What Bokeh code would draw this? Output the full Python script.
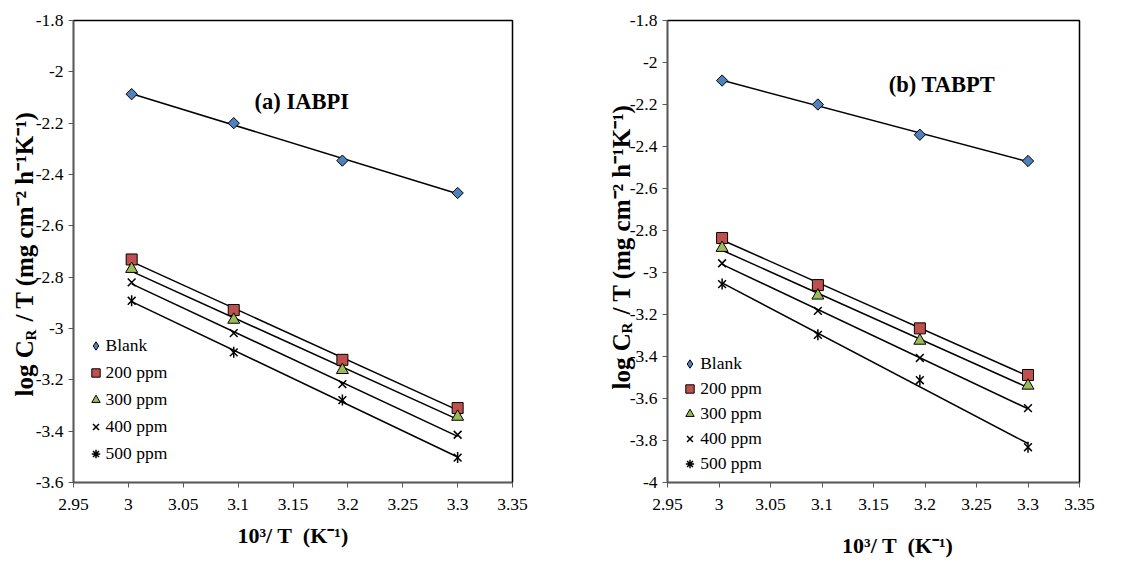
import numpy as np
from bokeh.plotting import figure
from bokeh.models import Label, Legend, LegendItem, FixedTicker, Range1d, Title
from bokeh.layouts import row
from bokeh.embed import file_html
from bokeh.resources import INLINE

# ---------------- data ----------------
inv_T = [3.003, 3.096, 3.195, 3.300]
series_labels = ["Blank", "200 ppm", "300 ppm", "400 ppm", "500 ppm"]

iabpi_blank = [-2.087, -2.200, -2.346, -2.472]
iabpi_200 = [-2.731, -2.928, -3.122, -3.310]
iabpi_300 = [-2.768, -2.966, -3.162, -3.344]
iabpi_400 = [-2.820, -3.018, -3.217, -3.414]
iabpi_500 = [-2.892, -3.093, -3.279, -3.503]

tabpt_blank = [-2.086, -2.200, -2.344, -2.469]
tabpt_200 = [-2.836, -3.060, -3.266, -3.488]
tabpt_300 = [-2.883, -3.110, -3.325, -3.539]
tabpt_400 = [-2.956, -3.183, -3.407, -3.646]
tabpt_500 = [-3.055, -3.297, -3.513, -3.832]

x_ticks = [2.95, 3.0, 3.05, 3.1, 3.15, 3.2, 3.25, 3.3, 3.35]
x_tick_labels = ["2.95", "3", "3.05", "3.1", "3.15", "3.2", "3.25", "3.3", "3.35"]
ya_ticks = [-1.8, -2.0, -2.2, -2.4, -2.6, -2.8, -3.0, -3.2, -3.4, -3.6]
ya_tick_labels = ["-1.8", "-2", "-2.2", "-2.4", "-2.6", "-2.8", "-3", "-3.2", "-3.4", "-3.6"]
yb_ticks = [-1.8, -2.0, -2.2, -2.4, -2.6, -2.8, -3.0, -3.2, -3.4, -3.6, -3.8, -4.0]
yb_tick_labels = ["-1.8", "-2", "-2.2", "-2.4", "-2.6", "-2.8", "-3", "-3.2", "-3.4", "-3.6", "-3.8", "-4"]

y_title_main = "log C\u2002 / T (mg cm\u207b\u00b2 h\u207b\u00b9K\u207b\u00b9)"
y_title_sub = "R"
x_title = "10\u00b3/ T\u2002(K\u207b\u00b9)"

SERIF = "Liberation Serif"

STYLES = [
    dict(marker="square", size=8, angle=np.pi / 4, fill_color="#4f81bd", line_color="black", line_width=1),
    dict(marker="square", size=11, fill_color="#c0504d", line_color="black", line_width=1),
    dict(marker="triangle", size=12, fill_color="#9bbb59", line_color="black", line_width=1),
    dict(marker="x", size=11, line_color="black", line_width=1.5),
    dict(marker="x", size=11, line_color="black", line_width=1.5),
]


def make_panel(series, y_ticks, y_tick_labels, y_lo, title, title_xy, width, height,
               borders, legend_loc, legend_glyph_h, ytitle_offset, ytitle_standoff,
               sub_offset, sub_standoff, x_title_text, x_title_standoff):
    bl, br, bt, bb = borders
    p = figure(width=width, height=height, output_backend="svg", toolbar_location=None,
               x_range=Range1d(2.95, 3.35), y_range=Range1d(y_lo, -1.8),
               min_border_left=bl, min_border_right=br, min_border_top=bt, min_border_bottom=bb)
    p.xgrid.visible = False
    p.ygrid.visible = False
    p.outline_line_color = "black"
    p.outline_line_width = 1.5
    p.background_fill_color = "white"
    p.border_fill_color = "white"

    p.xaxis.ticker = FixedTicker(ticks=x_ticks)
    p.xaxis.major_label_overrides = dict(zip(x_ticks, x_tick_labels))
    p.yaxis.ticker = FixedTicker(ticks=y_ticks)
    p.yaxis.major_label_overrides = dict(zip(y_ticks, y_tick_labels))
    for ax in (p.xaxis[0], p.yaxis[0]):
        ax.axis_line_color = "#595959"
        ax.axis_line_width = 1.5
        ax.major_tick_line_color = "#595959"
        ax.major_tick_in = 0
        ax.major_tick_out = 5
        ax.minor_tick_line_color = None
        ax.major_label_text_font = SERIF
        ax.major_label_text_font_size = "17.5px"
        ax.major_label_text_color = "black"
    p.xaxis.major_label_standoff = 11
    p.yaxis.major_label_standoff = 5

    # x axis title as the axis label
    p.xaxis.axis_label = x_title_text
    p.xaxis.axis_label_text_font = SERIF
    p.xaxis.axis_label_text_font_style = "bold"
    p.xaxis.axis_label_text_font_size = "22px"
    p.xaxis.axis_label_text_color = "black"
    p.xaxis.axis_label_standoff = x_title_standoff

    xs = np.array(inv_T)
    items = []
    for name, ys, st in zip(series_labels, series, STYLES):
        ys = np.array(ys)
        k, b = np.polyfit(xs, ys, 1)
        xf = np.array([xs.min(), xs.max()])
        p.line(xf, k * xf + b, line_color="black", line_width=1.5)
    for name, ys, st in zip(series_labels, series, STYLES):
        r = p.scatter(xs, ys, **st)
        if name == "Blank":
            leg_r = p.scatter(xs, ys, marker="diamond", fill_color="#4f81bd",
                              line_color="black", line_width=1, visible=False)
            items.append(LegendItem(label=name, renderers=[leg_r]))
        elif name == "500 ppm":
            p.scatter(xs, ys, marker="dash", angle=np.pi / 2, size=11,
                      line_color="black", line_width=1.5)
            leg_r = p.scatter(xs, ys, marker="asterisk", line_color="black",
                              line_width=1.5, visible=False)
            items.append(LegendItem(label=name, renderers=[leg_r]))
        else:
            items.append(LegendItem(label=name, renderers=[r]))

    leg = Legend(items=items, location=legend_loc, glyph_width=21,
                 glyph_height=legend_glyph_h, spacing=0, label_standoff=0,
                 padding=0, margin=0, border_line_color=None, background_fill_alpha=0,
                 label_text_font=SERIF, label_text_font_size="17.5px", label_text_color="black",
                 label_height=legend_glyph_h)
    p.add_layout(leg)

    p.add_layout(Label(x=title_xy[0], y=title_xy[1], text=title, text_font=SERIF,
                       text_font_style="bold", text_font_size="22.5px", text_color="black",
                       text_align="center", text_baseline="middle"))

    # y axis title: main text plus the subscript R
    p.add_layout(Title(text=y_title_sub, align="left", offset=sub_offset, standoff=sub_standoff,
                       text_font=SERIF, text_font_style="bold", text_font_size="15px",
                       text_color="black"), "left")
    p.add_layout(Title(text=y_title_main, align="left", offset=ytitle_offset,
                       standoff=ytitle_standoff, text_font=SERIF, text_font_style="bold",
                       text_font_size="25px", text_color="black"), "left")
    return p


H = 567
pa = make_panel([iabpi_blank, iabpi_200, iabpi_300, iabpi_400, iabpi_500],
                ya_ticks, ya_tick_labels, -3.6, "(a) IABPI", (3.158, -2.116),
                570, H, (73, 58, 20, H - 482), (11.5, 15.5), 27,
                86, -22, 142, -12, x_title, 10)
pb = make_panel([tabpt_blank, tabpt_200, tabpt_300, tabpt_400, tabpt_500],
                yb_ticks, yb_tick_labels, -4.0, "(b) TABPT", (3.2165, -2.103),
                572, H, (97, 63, 17, H - 487), (12.2, 6.2), 25,
                93, -20, 149, -16, "\u2003\u2003\u2009" + x_title, 20)

layout = row(pa, pb)
open("out.html", "w").write(file_html(layout, INLINE))
